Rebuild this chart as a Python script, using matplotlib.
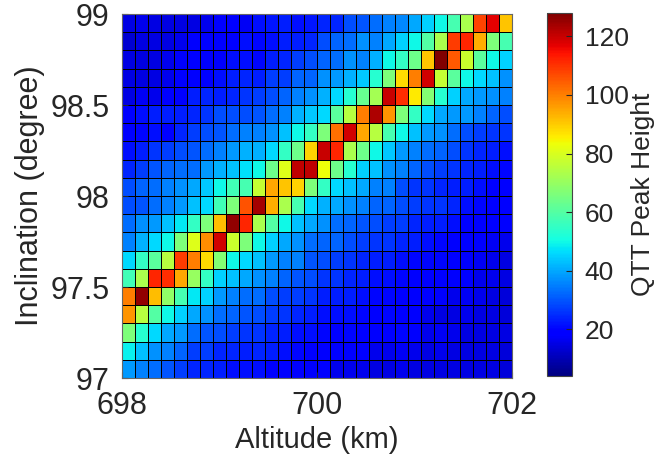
import numpy as np
import matplotlib
matplotlib.use('Agg')
import matplotlib.pyplot as plt

plt.rcParams['font.family'] = ['Liberation Sans', 'DejaVu Sans']

# grid edges
alt_edges = np.linspace(698, 702, 31)
inc_edges = np.linspace(97, 99, 21)

# QTT peak height, one list per inclination row (top row = 98.95 deg)
h_9895 = [15, 16, 15, 15, 15, 15, 16, 18, 18, 17, 21, 22, 23, 21, 22, 24, 24, 29, 30, 33, 35, 36, 40, 45, 50, 58, 73, 108, 117, 91]
h_9885 = [13, 15, 15, 15, 16, 18, 18, 19, 19, 21, 20, 21, 23, 23, 24, 29, 32, 33, 37, 35, 40, 45, 50, 60, 73, 109, 112, 94, 66, 58]
h_9875 = [15, 15, 15, 16, 18, 19, 18, 19, 21, 21, 20, 23, 24, 27, 29, 32, 33, 37, 35, 41, 50, 55, 64, 91, 128, 105, 78, 61, 50, 45]
h_9865 = [15, 15, 15, 16, 18, 19, 19, 21, 23, 24, 23, 27, 27, 32, 32, 37, 38, 41, 44, 53, 66, 88, 100, 119, 77, 61, 50, 46, 43, 37]
h_9855 = [15, 17, 16, 18, 19, 23, 24, 23, 24, 26, 27, 29, 32, 35, 37, 41, 46, 53, 63, 72, 120, 111, 86, 67, 53, 45, 40, 38, 37, 35]
h_9845 = [19, 21, 23, 23, 23, 24, 26, 29, 29, 29, 30, 33, 35, 41, 44, 46, 61, 75, 100, 123, 97, 66, 55, 46, 40, 38, 38, 35, 32, 29]
h_9835 = [19, 20, 21, 19, 24, 27, 29, 30, 33, 35, 35, 37, 43, 50, 55, 66, 102, 119, 95, 75, 58, 50, 43, 38, 37, 33, 29, 27, 26, 26]
h_9825 = [21, 23, 26, 27, 29, 30, 33, 35, 38, 41, 41, 46, 55, 64, 89, 120, 112, 73, 64, 50, 44, 38, 35, 33, 32, 29, 26, 24, 23, 21]
h_9815 = [24, 27, 30, 32, 33, 33, 38, 41, 43, 47, 50, 64, 81, 121, 121, 83, 64, 53, 45, 43, 37, 35, 32, 29, 27, 26, 24, 23, 21, 20]
h_9805 = [29, 32, 33, 35, 37, 40, 44, 50, 57, 58, 77, 95, 91, 89, 66, 55, 46, 43, 40, 35, 35, 29, 26, 26, 24, 23, 23, 21, 19, 19]
h_9795 = [29, 30, 33, 35, 38, 43, 46, 57, 66, 106, 124, 94, 73, 58, 46, 41, 40, 37, 35, 32, 32, 29, 27, 26, 26, 24, 21, 20, 19, 19]
h_9785 = [33, 37, 38, 43, 48, 55, 66, 92, 126, 112, 73, 60, 50, 43, 40, 37, 33, 32, 30, 29, 27, 27, 24, 23, 23, 21, 19, 19, 18, 18]
h_9775 = [35, 41, 46, 50, 66, 81, 98, 119, 78, 66, 50, 45, 40, 37, 33, 32, 32, 29, 27, 26, 26, 24, 23, 21, 20, 19, 18, 18, 17, 16]
h_9765 = [46, 55, 61, 75, 109, 100, 88, 67, 50, 46, 43, 38, 35, 35, 30, 29, 27, 26, 24, 23, 23, 21, 20, 20, 20, 18, 18, 17, 16, 15]
h_9755 = [57, 73, 112, 111, 95, 70, 55, 45, 43, 40, 37, 35, 32, 30, 29, 26, 26, 24, 23, 21, 21, 20, 19, 19, 19, 18, 18, 16, 16, 15]
h_9745 = [100, 126, 92, 69, 58, 48, 45, 38, 35, 33, 33, 29, 27, 27, 26, 23, 23, 23, 21, 20, 20, 18, 19, 19, 18, 16, 17, 16, 15, 14]
h_9735 = [97, 75, 60, 50, 45, 40, 37, 33, 32, 30, 29, 27, 26, 24, 23, 21, 21, 21, 20, 19, 20, 19, 18, 16, 15, 15, 16, 15, 15, 14]
h_9725 = [66, 53, 46, 40, 38, 33, 30, 29, 27, 26, 26, 24, 23, 21, 21, 20, 19, 20, 19, 18, 19, 20, 18, 16, 17, 16, 15, 15, 15, 15]
h_9715 = [49, 43, 37, 35, 32, 27, 27, 24, 24, 23, 24, 23, 21, 20, 19, 19, 18, 18, 18, 16, 16, 17, 16, 15, 16, 15, 15, 15, 15, 14]
h_9705 = [38, 35, 33, 30, 27, 24, 24, 23, 21, 21, 21, 19, 19, 18, 18, 18, 16, 16, 16, 15, 15, 16, 15, 15, 15, 15, 15, 15, 15, 14]

rows_top_down = [h_9895, h_9885, h_9875, h_9865, h_9855, h_9845, h_9835, h_9825,
                 h_9815, h_9805, h_9795, h_9785, h_9775, h_9765, h_9755, h_9745,
                 h_9735, h_9725, h_9715, h_9705]
Z = np.flipud(np.array(rows_top_down, dtype=float))

txt = '#262626'
fig = plt.figure(figsize=(6.71, 4.73), dpi=100)
ax = fig.add_axes([0.1818, 0.2008, 0.5812, 0.7696])
cax = fig.add_axes([0.8152, 0.2050, 0.0373, 0.7675])

mesh = ax.pcolormesh(alt_edges, inc_edges, Z, cmap='jet', vmin=4, vmax=128,
                     edgecolors='k', linewidth=0.5, snap=True)
ax.set_xlim(698, 702)
ax.set_ylim(97, 99)
ax.set_xticks([698, 700, 702])
ax.set_yticks([97, 97.5, 98, 98.5, 99])
ax.set_yticklabels(['97', '97.5', '98', '98.5', '99'])
ax.tick_params(direction='in', labelsize=22, colors=txt, length=4, pad=9)
ax.set_xlabel('Altitude (km)', fontsize=21, color=txt, labelpad=4)
ax.set_ylabel('Inclination (degree)', fontsize=22, color=txt, labelpad=4)
for s in ax.spines.values():
    s.set_color('#666666')
    s.set_linewidth(0.8)

cb = fig.colorbar(mesh, cax=cax)
cb.set_ticks([20, 40, 60, 80, 100, 120])
cb.ax.tick_params(direction='in', labelsize=19, colors=txt, length=4, pad=9)
cb.set_label('QTT Peak Height', fontsize=19, color=txt, labelpad=2)
cb.outline.set_edgecolor('#444444')
cb.outline.set_linewidth(0.8)

fig.savefig('out.png', dpi=100)
